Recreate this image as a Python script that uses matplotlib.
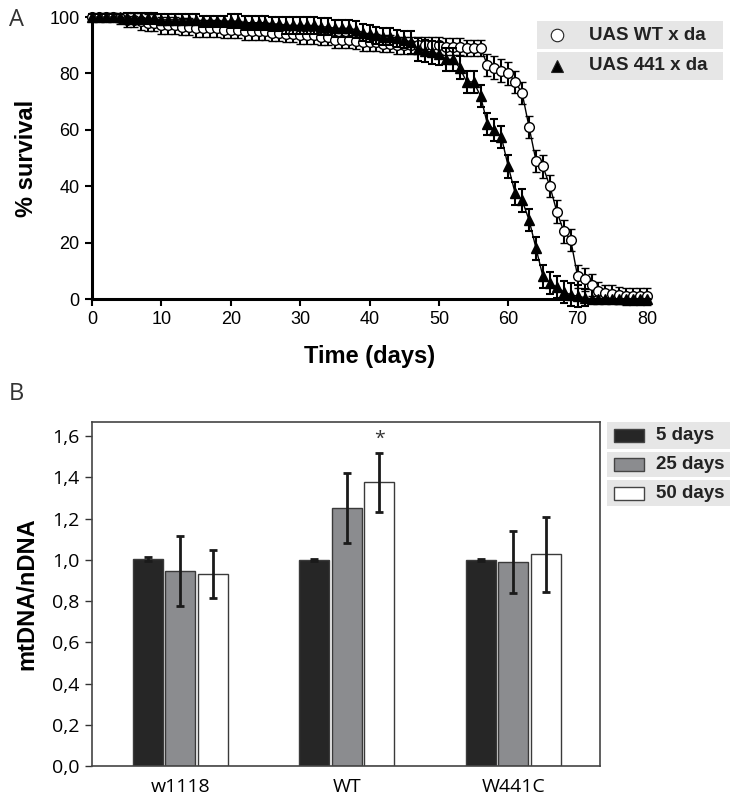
import matplotlib
matplotlib.use("Agg")
import matplotlib.pyplot as plt
from matplotlib.patches import Rectangle
from matplotlib.lines import Line2D

W, H = 735, 799

# ---- panel A: survival curves ----
days = list(range(81))
wt_surv = [100, 100, 100, 100, 99.5, 99, 99, 98.5, 98, 98,
           97, 97, 97, 96.5, 96.5, 96, 96, 96, 96, 95.5,
           95.5, 95.5, 95, 95, 95, 95, 94.5, 94.5, 94, 94,
           93.5, 93.5, 93.5, 93, 93, 92, 92, 92, 91.5, 91,
           91, 91, 90.5, 90.5, 90, 90, 90, 90, 90, 90,
           90, 89.5, 89.5, 89.5, 89, 89, 89, 83, 82, 81,
           80, 77, 73, 61, 49, 47, 40, 31, 24, 21,
           8, 7, 5, 3, 2, 1.8, 1.4, 1, 1, 1, 1]
wt_err = [1, 1, 1.5, 1.5, 2, 2.5, 2.5, 3, 3, 3,
          3, 3, 3, 3, 3, 3, 3, 3, 3, 3,
          3, 3, 3, 3, 3, 3, 3, 3, 3, 3,
          3, 3, 3, 3, 3, 3, 3, 3, 3, 3,
          3, 3, 3, 3, 3, 3, 3, 3, 3, 3,
          3, 3, 3, 3, 3, 3, 3, 4, 4, 4,
          4, 4, 4, 4, 4, 4, 4, 4, 4, 4,
          4, 4, 4, 3, 3, 3, 3, 3, 3, 3, 3]
m441_surv = [100, 100, 100, 100, 100, 99.5, 99.5, 99.5, 99.5, 99.5,
             99, 99, 99, 99, 99, 99, 98.5, 98.5, 98.5, 98.5,
             98.5, 98.5, 98, 98, 98, 98, 97.5, 97.5, 97, 97,
             97, 97, 97, 96.5, 96.5, 96, 96, 96, 95.5, 94.5,
             94, 93.5, 93, 93, 92.5, 92, 91, 88.5, 88, 87.5,
             87, 85, 85, 82, 77, 77, 72, 62, 60, 57.5,
             47, 37.5, 35, 28, 18, 8, 5.7, 4.2, 2.5, 1.5,
             1, 0.5, 0, 0, 0, 0, 0, 0, 0, 0, 0]
m441_err = [1, 1, 1, 1, 1, 2, 2, 2, 2, 2,
            2, 2, 2, 2, 2, 2, 2, 2, 2, 2,
            2.5, 2.5, 2.5, 2.5, 2.5, 2.5, 2.5, 2.5, 3, 3,
            3, 3, 3, 3, 3, 3, 3, 3, 3, 3,
            3, 3, 3, 3, 3, 3, 4, 4, 4, 4,
            4, 4, 4, 4, 4, 4, 4, 4, 4, 4,
            4, 4, 4, 4, 4, 4, 4, 4, 4, 4,
            4, 3, 0, 0, 0, 0, 0, 0, 0, 0, 0]

# ---- panel B: mtDNA/nDNA ----
genotypes = ["w1118", "WT", "W441C"]
ages = ["5 days", "25 days", "50 days"]
d5 = [1.005, 1.0, 1.0]
d5_err = [0.01, 0.005, 0.005]
d25 = [0.947, 1.252, 0.989]
d25_err = [0.17, 0.17, 0.15]
d50 = [0.931, 1.375, 1.026]
d50_err = [0.118, 0.145, 0.18]
bar_colors = ["#262626", "#8b8c8f", "#ffffff"]

fig = plt.figure(figsize=(W / 100, H / 100), dpi=100)


def fx(x):
    return x / W


def fy(y):
    return 1 - y / H


# panel A
axA = fig.add_axes([fx(92), fy(299), fx(647) - fx(92), fy(17) - fy(299)])
axA.errorbar(days, wt_surv, yerr=wt_err, color="black", lw=1, marker="o",
             ms=7, mfc="white", mec="black", mew=1, ecolor="black",
             elinewidth=1.5, capsize=3, capthick=1.5, clip_on=False, zorder=3)
axA.errorbar(days, m441_surv, yerr=m441_err, color="black", lw=1, marker="^",
             ms=7, mfc="black", mec="black", ecolor="black",
             elinewidth=1.5, capsize=3, capthick=1.5, clip_on=False, zorder=4)
axA.set_xlim(0, 80)
axA.set_ylim(0, 100)
axA.set_xticks(range(0, 81, 10))
axA.set_yticks(range(0, 101, 20))
for s in ["top", "right"]:
    axA.spines[s].set_visible(False)
for s in ["left", "bottom"]:
    axA.spines[s].set_linewidth(2.2)
axA.tick_params(length=5, width=1.5, labelsize=13, pad=4)
for lab in axA.get_xticklabels() + axA.get_yticklabels():
    lab.set_family("Liberation Sans")
axA.set_xlabel("Time (days)", fontsize=17, fontweight="bold",
               family="Liberation Sans", labelpad=12)
axA.set_ylabel("% survival", fontsize=17, fontweight="bold",
               family="Liberation Sans", labelpad=8)

# legend A (drawn in figure pixels)
leg_rows = [(21, 49, "UAS WT x da", "o", "white"),
            (52, 80, "UAS 441 x da", "^", "black")]
for y0, y1, txt, mk, fc in leg_rows:
    fig.patches.append(Rectangle((fx(537), fy(y1)), fx(723) - fx(537), fy(y0) - fy(y1),
                                 transform=fig.transFigure, facecolor="#e6e6e6",
                                 edgecolor="none"))
    fig.add_artist(Line2D([fx(557)], [fy((y0 + y1) / 2)], marker=mk, ms=9 if mk == "o" else 8,
                          mfc=fc, mec="#222222", mew=0.8, transform=fig.transFigure))
    fig.text(fx(589), fy((y0 + y1) / 2), txt, fontsize=13.5, fontweight="bold",
             family="Liberation Sans", va="center", ha="left", color="#222222")

# panel B
axB = fig.add_axes([fx(92), fy(766), fx(600) - fx(92), fy(422) - fy(766)])
xs = list(range(len(genotypes)))
offsets = [-0.195, 0, 0.195]
for vals, errs, col, off in zip([d5, d25, d50], [d5_err, d25_err, d50_err], bar_colors, offsets):
    axB.bar([x + off for x in xs], vals, width=0.18, color=col,
            edgecolor="#3a3a3a", linewidth=1, zorder=2)
    axB.errorbar([x + off for x in xs], vals, yerr=errs, fmt="none",
                 ecolor="#1a1a1a", elinewidth=2, capsize=3, capthick=2, zorder=3)
axB.text(1 + 0.195, 1.585, "*", ha="center", va="center", fontsize=14,
         family="Open Sans", color="#333333")
axB.set_xlim(-0.53, 2.52)
axB.set_ylim(0, 1.668)
yt = [0, 0.2, 0.4, 0.6, 0.8, 1.0, 1.2, 1.4, 1.6]
axB.set_yticks(yt)
axB.set_yticklabels([f"{v:.1f}".replace(".", ",") for v in yt], family="Open Sans", fontsize=14)
axB.set_xticks(xs)
axB.set_xticklabels(genotypes, family="Open Sans", fontsize=14)
axB.tick_params(axis="x", length=0, pad=9)
axB.tick_params(axis="y", length=5, width=1, color="#333333", pad=4)
for s in axB.spines.values():
    s.set_linewidth(1.2)
    s.set_color("#444444")
axB.set_ylabel("mtDNA/nDNA", fontsize=17, fontweight="bold",
               family="Liberation Sans", labelpad=10)

# legend B
leg_b = [(422, 449), (452, 477), (480, 506)]
for (y0, y1), col, txt in zip(leg_b, bar_colors, ages):
    fig.patches.append(Rectangle((fx(607), fy(y1)), fx(730) - fx(607), fy(y0) - fy(y1),
                                 transform=fig.transFigure, facecolor="#e6e6e6",
                                 edgecolor="none"))
    yc = (y0 + y1) / 2
    fig.patches.append(Rectangle((fx(614), fy(yc + 6.5)), fx(644) - fx(614), 13 / H,
                                 transform=fig.transFigure, facecolor=col,
                                 edgecolor="#444444", linewidth=1))
    fig.text(fx(656), fy(yc), txt, fontsize=13.5, fontweight="bold",
             family="Liberation Sans", va="center", ha="left", color="#222222")

# panel letters
fig.text(fx(9), fy(26), "A", fontsize=17, family="Open Sans", color="#333333")
fig.text(fx(9), fy(400), "B", fontsize=17, family="Open Sans", color="#333333")

fig.savefig("out.png", dpi=100)
